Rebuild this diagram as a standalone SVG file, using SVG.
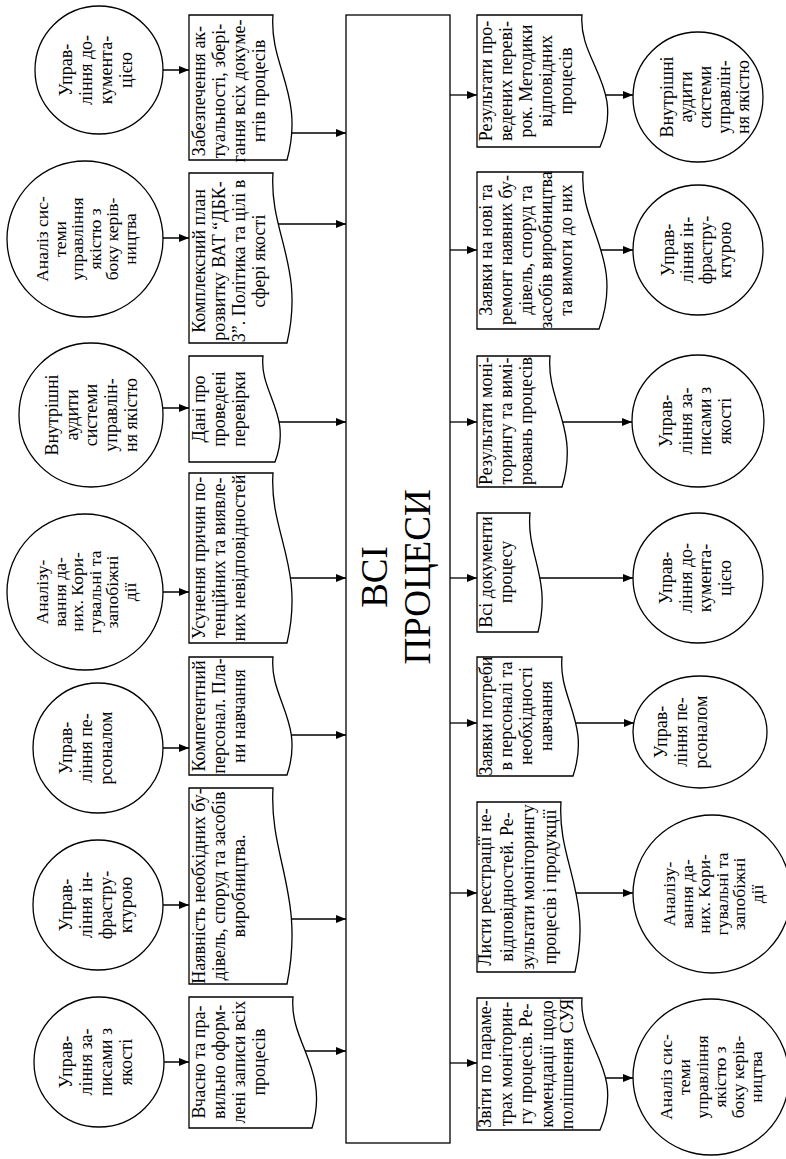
<svg xmlns="http://www.w3.org/2000/svg" width="786" height="1159" viewBox="0 0 786 1159" font-family="'Liberation Serif', 'Times New Roman', serif">
  <defs>
    <marker id="ah" markerUnits="userSpaceOnUse" markerWidth="10" markerHeight="8" refX="10" refY="4" orient="auto">
      <path d="M0,0 L10,4 L0,8 z" fill="#000"/>
    </marker>
    <style>
      .shape { fill: #fff; stroke: #000; stroke-width: 1.3; }
      .lbl { font-family: "Liberation Serif", "Times New Roman", serif; font-size: 18px; fill: #000; text-anchor: middle; }
      .sm { font-size: 17.5px; }
      .big { font-size: 37px; }
      .conn line { stroke: #000; stroke-width: 1.3; marker-end: url(#ah); }
    </style>
  </defs>
  <rect width="786" height="1159" fill="#fff"/>

  <!-- connectors (drawn first; shapes with white fill sit on top of their tails) -->
  <g id="connectors" class="conn">
    <!-- left circles to left documents -->
    <line x1="99" y1="70" x2="189" y2="70"/>
    <line x1="85" y1="238" x2="189" y2="238"/>
    <line x1="91" y1="408" x2="189" y2="408"/>
    <line x1="85" y1="592" x2="189" y2="592"/>
    <line x1="98" y1="748" x2="189" y2="748"/>
    <line x1="98" y1="905" x2="189" y2="905"/>
    <line x1="99" y1="1062" x2="189" y2="1062"/>
    <!-- left documents to the central block -->
    <line x1="260" y1="133" x2="346" y2="133"/>
    <line x1="260" y1="224" x2="346" y2="224"/>
    <line x1="250" y1="422" x2="346" y2="422"/>
    <line x1="260" y1="578" x2="346" y2="578"/>
    <line x1="260" y1="735" x2="346" y2="735"/>
    <line x1="260" y1="919" x2="346" y2="919"/>
    <line x1="280" y1="1051" x2="346" y2="1051"/>
    <!-- central block to right documents -->
    <line x1="450" y1="95" x2="477" y2="95"/>
    <line x1="450" y1="250" x2="477" y2="250"/>
    <line x1="450" y1="422" x2="477" y2="422"/>
    <line x1="450" y1="578" x2="477" y2="578"/>
    <line x1="450" y1="723" x2="477" y2="723"/>
    <line x1="450" y1="893" x2="477" y2="893"/>
    <line x1="450" y1="1063" x2="477" y2="1063"/>
    <!-- right documents to right circles -->
    <line x1="570" y1="95" x2="633" y2="95"/>
    <line x1="570" y1="250" x2="633" y2="250"/>
    <line x1="540" y1="422" x2="632" y2="422"/>
    <line x1="520" y1="578" x2="633" y2="578"/>
    <line x1="550" y1="723" x2="634" y2="723"/>
    <line x1="550" y1="893" x2="633" y2="893"/>
    <line x1="570" y1="1078" x2="633" y2="1078"/>
  </g>

  <!-- central block -->
  <g id="all-processes">
    <rect class="shape" x="346" y="15" width="104" height="1128"/>
    <text class="lbl big" transform="translate(387,577) rotate(-90)">ВСІ</text>
    <text class="lbl big" transform="translate(430,577) rotate(-90)">ПРОЦЕСИ</text>
  </g>

  <!-- left column: source processes -->
  <g id="l-circle-1">
    <circle class="shape" cx="99" cy="70" r="64"/>
    <text class="lbl" transform="translate(72,70) rotate(-90)"><tspan x="0" y="0">Управ-</tspan><tspan x="0" y="20">ління до-</tspan><tspan x="0" y="40">кумента-</tspan><tspan x="0" y="60">цією</tspan></text>
  </g>
  <g id="l-circle-2">
    <circle class="shape" cx="85" cy="239" r="78"/>
    <text class="lbl sm" transform="translate(48,239) rotate(-90)"><tspan x="0" y="0">Аналіз сис-</tspan><tspan x="0" y="17.5">теми</tspan><tspan x="0" y="35">управління</tspan><tspan x="0" y="52.5">якістю з</tspan><tspan x="0" y="70">боку керів-</tspan><tspan x="0" y="87.5">ництва</tspan></text>
  </g>
  <g id="l-circle-3">
    <circle class="shape" cx="91" cy="415" r="72"/>
    <text class="lbl" transform="translate(58,415) rotate(-90)"><tspan x="0" y="0">Внутрішні</tspan><tspan x="0" y="19.7">аудити</tspan><tspan x="0" y="39.4">системи</tspan><tspan x="0" y="59.1">управлін-</tspan><tspan x="0" y="78.8">ня якістю</tspan></text>
  </g>
  <g id="l-circle-4">
    <circle class="shape" cx="85" cy="592" r="78"/>
    <text class="lbl sm" transform="translate(48,592) rotate(-90)"><tspan x="0" y="0">Аналізу-</tspan><tspan x="0" y="17.5">вання да-</tspan><tspan x="0" y="35">них. Кори-</tspan><tspan x="0" y="52.5">гувальні та</tspan><tspan x="0" y="70">запобіжні</tspan><tspan x="0" y="87.5">дії</tspan></text>
  </g>
  <g id="l-circle-5">
    <circle class="shape" cx="98" cy="748" r="65"/>
    <text class="lbl" transform="translate(72,748) rotate(-90)"><tspan x="0" y="0">Управ-</tspan><tspan x="0" y="20">ління пе-</tspan><tspan x="0" y="40">рсоналом</tspan></text>
  </g>
  <g id="l-circle-6">
    <circle class="shape" cx="98" cy="905" r="65"/>
    <text class="lbl" transform="translate(72,905) rotate(-90)"><tspan x="0" y="0">Управ-</tspan><tspan x="0" y="20">ління ін-</tspan><tspan x="0" y="40">фрастру-</tspan><tspan x="0" y="60">ктурою</tspan></text>
  </g>
  <g id="l-circle-7">
    <circle class="shape" cx="99" cy="1062" r="65"/>
    <text class="lbl" transform="translate(72,1062) rotate(-90)"><tspan x="0" y="0">Управ-</tspan><tspan x="0" y="20">ління за-</tspan><tspan x="0" y="40">писами з</tspan><tspan x="0" y="60">якості</tspan></text>
  </g>

  <!-- left column: input documents -->
  <g id="l-doc-1">
    <path class="shape" d="M189,15 H273 C269,65.8 305,94.8 287,160 H189 Z"/>
    <text class="lbl" transform="translate(205,91) rotate(-90)"><tspan x="0" y="0">Забезпечення ак-</tspan><tspan x="0" y="20">туальності, збері-</tspan><tspan x="0" y="40">гання всіх докуме-</tspan><tspan x="0" y="60">нтів процесів</tspan></text>
  </g>
  <g id="l-doc-2">
    <path class="shape" d="M189,173 H273 C269,232.5 305,266.5 287,343 H189 Z"/>
    <text class="lbl" transform="translate(205,261) rotate(-90)"><tspan x="0" y="0">Комплексний план</tspan><tspan x="0" y="20">розвитку ВАТ “ДБК-</tspan><tspan x="0" y="40">3”. Політика та цілі в</tspan><tspan x="0" y="60">сфері якості</tspan></text>
  </g>
  <g id="l-doc-3">
    <path class="shape" d="M189,356 H263 C259,393.1 293,414.3 275,462 H189 Z"/>
    <text class="lbl" transform="translate(205,409) rotate(-90)"><tspan x="0" y="0">Дані про</tspan><tspan x="0" y="20">проведені</tspan><tspan x="0" y="40">перевірки</tspan></text>
  </g>
  <g id="l-doc-4">
    <path class="shape" d="M189,473 H273 C269,532.5 305,566.5 287,643 H189 Z"/>
    <text class="lbl" transform="translate(205,558) rotate(-90)"><tspan x="0" y="0">Усунення причин по-</tspan><tspan x="0" y="20">тенційних та виявле-</tspan><tspan x="0" y="40">них невідповідностей</tspan></text>
  </g>
  <g id="l-doc-5">
    <path class="shape" d="M189,657 H273 C269,698.3 305,721.9 287,775 H189 Z"/>
    <text class="lbl" transform="translate(205,716) rotate(-90)"><tspan x="0" y="0">Компетентний</tspan><tspan x="0" y="20">персонал. Пла-</tspan><tspan x="0" y="40">ни навчання</tspan></text>
  </g>
  <g id="l-doc-6">
    <path class="shape" d="M189,788 H273 C269,856.6 305,895.8 287,984 H189 Z"/>
    <text class="lbl" transform="translate(205,886) rotate(-90)"><tspan x="0" y="0">Наявність необхідних бу-</tspan><tspan x="0" y="20">дівель, споруд та засобів</tspan><tspan x="0" y="40">виробництва.</tspan></text>
  </g>
  <g id="l-doc-7">
    <path class="shape" d="M189,997 H293 C289,1042.9 330,1069 312,1128 H189 Z"/>
    <text class="lbl" transform="translate(205,1062) rotate(-90)"><tspan x="0" y="0">Вчасно та пра-</tspan><tspan x="0" y="20">вильно оформ-</tspan><tspan x="0" y="40">лені записи всіх</tspan><tspan x="0" y="60">процесів</tspan></text>
  </g>

  <!-- right column: output documents -->
  <g id="r-doc-1">
    <path class="shape" d="M477,15 H582 C578,61.2 626,87.6 600,147 H477 Z"/>
    <text class="lbl" transform="translate(492,81) rotate(-90)"><tspan x="0" y="0">Результати про-</tspan><tspan x="0" y="20">ведених переві-</tspan><tspan x="0" y="40">рок. Методики</tspan><tspan x="0" y="60">відповідних</tspan><tspan x="0" y="80">процесів</tspan></text>
  </g>
  <g id="r-doc-2">
    <path class="shape" d="M477,172 H583 C579,227 625,258.4 599,329 H477 Z"/>
    <text class="lbl" transform="translate(492,250) rotate(-90)"><tspan x="0" y="0">Заявки на нові та</tspan><tspan x="0" y="20">ремонт наявних бу-</tspan><tspan x="0" y="40">дівель, споруд та</tspan><tspan x="0" y="60">засобів виробництва</tspan><tspan x="0" y="80">та вимоги до них</tspan></text>
  </g>
  <g id="r-doc-3">
    <path class="shape" d="M477,356 H550 C546,401.9 580,428 562,487 H477 Z"/>
    <text class="lbl" transform="translate(492,421) rotate(-90)"><tspan x="0" y="0">Результати моні-</tspan><tspan x="0" y="20">торингу та вимі-</tspan><tspan x="0" y="40">рювань процесів</tspan></text>
  </g>
  <g id="r-doc-4">
    <path class="shape" d="M477,513 H530 C526,554.7 552,578.5 538,632 H477 Z"/>
    <text class="lbl" transform="translate(492,572) rotate(-90)"><tspan x="0" y="0">Всі документи</tspan><tspan x="0" y="20">процесу</tspan></text>
  </g>
  <g id="r-doc-5">
    <path class="shape" d="M477,657 H562 C558,698.7 591,722.5 573,776 H477 Z"/>
    <text class="lbl" transform="translate(492,716) rotate(-90)"><tspan x="0" y="0">Заявки потреби</tspan><tspan x="0" y="20">в персоналі та</tspan><tspan x="0" y="40">необхідності</tspan><tspan x="0" y="60">навчання</tspan></text>
  </g>
  <g id="r-doc-6">
    <path class="shape" d="M477,802 H561 C557,861.5 593,895.5 575,972 H477 Z"/>
    <text class="lbl" transform="translate(491,887) rotate(-90)"><tspan x="0" y="0">Листи реєстрації не-</tspan><tspan x="0" y="21.5">відповідностей. Ре-</tspan><tspan x="0" y="43">зультати моніторингу</tspan><tspan x="0" y="64.5">процесів і продукції</tspan></text>
  </g>
  <g id="r-doc-7">
    <path class="shape" d="M477,998 H582 C578,1044.2 626,1070.6 600,1130 H477 Z"/>
    <text class="lbl" transform="translate(491,1064) rotate(-90)"><tspan x="0" y="0">Звіти по параме-</tspan><tspan x="0" y="20.5">трах моніторин-</tspan><tspan x="0" y="41">гу процесів. Ре-</tspan><tspan x="0" y="61.5">комендації щодо</tspan><tspan x="0" y="82">поліпшення СУЯ</tspan></text>
  </g>

  <!-- right column: receiving processes -->
  <g id="r-circle-1">
    <circle class="shape" cx="698" cy="97" r="65"/>
    <text class="lbl" transform="translate(673,97) rotate(-90)"><tspan x="0" y="0">Внутрішні</tspan><tspan x="0" y="19">аудити</tspan><tspan x="0" y="38">системи</tspan><tspan x="0" y="57">управлін-</tspan><tspan x="0" y="76">ня якістю</tspan></text>
  </g>
  <g id="r-circle-2">
    <circle class="shape" cx="698" cy="250" r="65"/>
    <text class="lbl" transform="translate(674,250) rotate(-90)"><tspan x="0" y="0">Управ-</tspan><tspan x="0" y="19">ління ін-</tspan><tspan x="0" y="38">фрастру-</tspan><tspan x="0" y="57">ктурою</tspan></text>
  </g>
  <g id="r-circle-3">
    <circle class="shape" cx="698" cy="421" r="66"/>
    <text class="lbl" transform="translate(672,421) rotate(-90)"><tspan x="0" y="0">Управ-</tspan><tspan x="0" y="19.5">ління за-</tspan><tspan x="0" y="39">писами з</tspan><tspan x="0" y="58.5">якості</tspan></text>
  </g>
  <g id="r-circle-4">
    <circle class="shape" cx="698" cy="578" r="65"/>
    <text class="lbl" transform="translate(672,578) rotate(-90)"><tspan x="0" y="0">Управ-</tspan><tspan x="0" y="19.5">ління до-</tspan><tspan x="0" y="39">кумента-</tspan><tspan x="0" y="58.5">цією</tspan></text>
  </g>
  <g id="r-circle-5">
    <ellipse class="shape" cx="700" cy="732" rx="67" ry="56"/>
    <text class="lbl" transform="translate(667,732) rotate(-90)"><tspan x="0" y="0">Управ-</tspan><tspan x="0" y="20">ління пе-</tspan><tspan x="0" y="40">рсоналом</tspan></text>
  </g>
  <g id="r-circle-6">
    <circle class="shape" cx="712" cy="894" r="79"/>
    <text class="lbl sm" transform="translate(675,894) rotate(-90)"><tspan x="0" y="0">Аналізу-</tspan><tspan x="0" y="17.6">вання да-</tspan><tspan x="0" y="35.2">них. Кори-</tspan><tspan x="0" y="52.8">гувальні та</tspan><tspan x="0" y="70.4">запобіжні</tspan><tspan x="0" y="88">дії</tspan></text>
  </g>
  <g id="r-circle-7">
    <circle class="shape" cx="711" cy="1077" r="78"/>
    <text class="lbl sm" transform="translate(672,1077) rotate(-90)"><tspan x="0" y="0">Аналіз сис-</tspan><tspan x="0" y="18">теми</tspan><tspan x="0" y="36">управління</tspan><tspan x="0" y="54">якістю з</tspan><tspan x="0" y="72">боку керів-</tspan><tspan x="0" y="90">ництва</tspan></text>
  </g>
</svg>
